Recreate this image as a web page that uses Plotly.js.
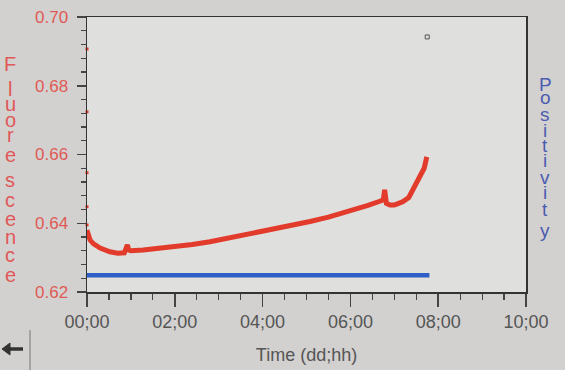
<!DOCTYPE html>
<html>
<head>
<meta charset="utf-8">
<script src="https://cdn.plot.ly/plotly-3.0.1.min.js"></script>
<style>html,body{margin:0;padding:0;background:#d2d1cf;}#chart{width:565px;height:370px;}</style>
</head>
<body>
<div id="chart"></div>
<script>
// Fluorescence reading (time in hours)
const fluorTime = [0.00, 0.03, 0.07, 0.15, 0.30, 0.52, 0.70, 0.85, 0.92, 0.95, 1.00, 1.28, 1.60, 2.05, 2.40, 2.80, 3.20, 3.55, 3.95, 4.33, 4.70, 5.08, 5.50, 6.00, 6.40, 6.67, 6.75, 6.78, 6.82, 6.90, 7.00, 7.10, 7.20, 7.33, 7.42, 7.49, 7.60, 7.68, 7.74];
const fluorValue = [0.6380, 0.6366, 0.6351, 0.6340, 0.6328, 0.6317, 0.6313, 0.6314, 0.6337, 0.6322, 0.6320, 0.6322, 0.6326, 0.6332, 0.6338, 0.6346, 0.6356, 0.6366, 0.6376, 0.6386, 0.6396, 0.6405, 0.6418, 0.6436, 0.6452, 0.6464, 0.6468, 0.6497, 0.6458, 0.6453, 0.6453, 0.6458, 0.6463, 0.6475, 0.6497, 0.6512, 0.6535, 0.6560, 0.6593];
// stray readings plotted at time zero
const strayTime = [0, 0, 0, 0, 0];
const strayValue = [0.6907, 0.6724, 0.6547, 0.6448, 0.6395];
// marker near top
const markTime = [7.75];
const markValue = [0.6942];
// positivity baseline
const posTime = [0.00, 7.80];
const posValue = [0.6249, 0.6249];
// axis ticks
const xTickVals = [0, 2, 4, 6, 8, 10];
const xTickText = ["00;00", "02;00", "04;00", "06;00", "08;00", "10;00"];
const yTickVals = [0.62, 0.64, 0.66, 0.68, 0.70];
const yTickText = ["0.62", "0.64", "0.66", "0.68", "0.70"];
// vertical axis titles
const yTitle = "Fluorescence";
const y2Title = "Positivity";

const red = '#e23b2b';
const blue = '#2f5fc6';
const fontFam = 'Liberation Sans, Arial, sans-serif';

// plot-area geometry in pixels (for converting label placements to paper coords)
const L = 87, T = 17, W = 439, H = 275;
const px = x => (x - L) / W;
const py = y => (T + H - y) / H;

const traces = [
  {x: posTime, y: posValue, type: 'scatter', mode: 'lines', yaxis: 'y2',
   line: {color: blue, width: 4.5}, hoverinfo: 'skip'},
  {x: fluorTime, y: fluorValue, type: 'scatter', mode: 'lines',
   line: {color: red, width: 5}, hoverinfo: 'skip'},
  {x: strayTime, y: strayValue, type: 'scatter', mode: 'markers', cliponaxis: false,
   marker: {color: red, size: 3, symbol: 'square'}, hoverinfo: 'skip'},
  {x: markTime, y: markValue, type: 'scatter', mode: 'markers',
   marker: {color: 'rgba(0,0,0,0)', size: 4, symbol: 'square', line: {color: '#555', width: 1}}, hoverinfo: 'skip'}
];

// bottom pixel of each letter box
const fBottoms = [77, 102, 117, 133, 148, 168, 193, 213, 232, 250, 268, 288];
const pBottoms = [97, 110, 127, 143, 158, 173, 190, 205, 222, 243];

const annotations = [];
yTitle.split('').forEach((ch, i) => annotations.push({
  text: ch, xref: 'paper', yref: 'paper', x: px(10), y: py(fBottoms[i]),
  xanchor: 'center', yanchor: 'bottom', showarrow: false,
  font: {size: 20, color: '#e05858', family: fontFam}
}));
y2Title.split('').forEach((ch, i) => annotations.push({
  text: ch, xref: 'paper', yref: 'paper', x: px(545), y: py(pBottoms[i]),
  xanchor: 'center', yanchor: 'bottom', showarrow: false,
  font: {size: 19, color: '#4c5cb0', family: fontFam}
}));

const layout = {
  width: 565, height: 370,
  margin: {l: L, r: 565 - L - W, t: T, b: 370 - T - H},
  paper_bgcolor: '#d2d1cf',
  plot_bgcolor: '#dfdfdd',
  showlegend: false,
  font: {family: fontFam},
  xaxis: {
    range: [0, 10], tickmode: 'array', tickvals: xTickVals, ticktext: xTickText,
    showgrid: false, zeroline: false, showline: true, linecolor: '#333', linewidth: 1.5, mirror: true,
    ticks: 'outside', ticklen: 13, tickcolor: '#444', tickwidth: 1.5,
    minor: {dtick: 0.5, ticklen: 6, tickcolor: '#444', tickwidth: 1.2, showgrid: false},
    tickfont: {size: 18, color: '#555'},
    title: {text: 'Time (dd;hh)', font: {size: 18, color: '#555'}, standoff: 17}
  },
  yaxis: {
    range: [0.62, 0.70], tickmode: 'array', tickvals: yTickVals, ticktext: yTickText,
    showgrid: false, zeroline: false, showline: true, linecolor: '#333', linewidth: 1.5, mirror: true,
    ticks: 'outside', ticklen: 9, tickcolor: '#444', tickwidth: 1.5, ticklabelstandoff: 5,
    minor: {dtick: 0.004, ticklen: 5, tickcolor: '#444', tickwidth: 1.2, showgrid: false},
    tickfont: {size: 17, color: '#e05a55'}
  },
  yaxis2: {
    range: [0.62, 0.70], overlaying: 'y', side: 'right', showticklabels: false,
    showgrid: false, zeroline: false, showline: false, ticks: ''
  },
  annotations: annotations,
  shapes: [
    {type: 'line', xref: 'paper', yref: 'paper', x0: px(30), x1: px(30), y0: py(330), y1: py(370),
     line: {color: '#777', width: 1}},
    {type: 'line', xref: 'paper', yref: 'paper', x0: px(8), x1: px(23), y0: py(349), y1: py(349),
     line: {color: '#333', width: 3.5}},
    {type: 'path', xref: 'paper', yref: 'paper',
     path: `M ${px(2)} ${py(349)} L ${px(10)} ${py(343)} L ${px(10)} ${py(355)} Z`,
     fillcolor: '#333', line: {color: '#333', width: 1}}
  ]
};

Plotly.newPlot('chart', traces, layout, {staticPlot: true, displayModeBar: false});
</script>
</body>
</html>
